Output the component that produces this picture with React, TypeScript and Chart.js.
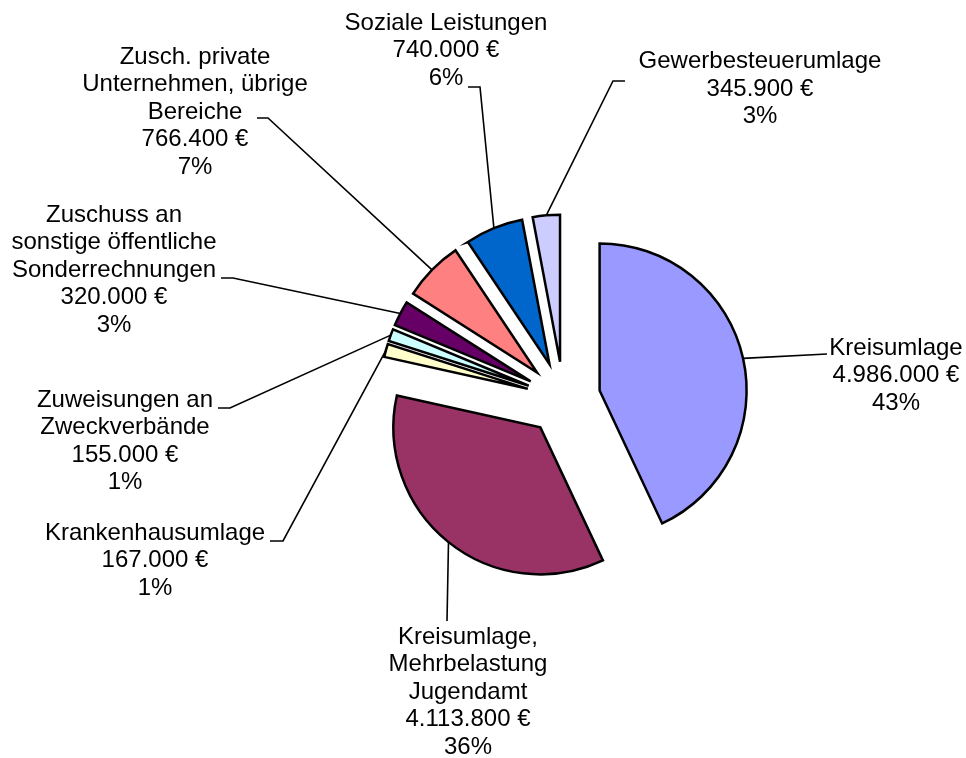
import React, { useEffect, useRef } from "react";
import { Chart, registerables } from "chart.js";

Chart.register(...registerables);

// ---- data ----
const categories = [
  "Kreisumlage",
  "Kreisumlage,\nMehrbelastung\nJugendamt",
  "Krankenhausumlage",
  "Zuweisungen an\nZweckverbände",
  "Zuschuss an\nsonstige öffentliche\nSonderrechnungen",
  "Zusch. private\nUnternehmen, übrige\nBereiche",
  "Soziale Leistungen",
  "Gewerbesteuerumlage",
];
const values = [4986000, 4113800, 167000, 155000, 320000, 766400, 740000, 345900];
const percentLabels = ["43%", "36%", "1%", "1%", "3%", "7%", "6%", "3%"];
const colors = ["#9999FF", "#993366", "#FFFFCC", "#CCFFFF", "#660066", "#FF8080", "#0066CC", "#CCCCFF"];

// ---- label layout (text block centre, first-line y, leader anchor, elbow length) ----
const labelLayout = [
  { cx: 896, cy: 348, ax: 827, ay: 354, elbow: 0 },
  { cx: 468, cy: 637, ax: 447, ay: 621, elbow: 0 },
  { cx: 155, cy: 533, ax: 270, ay: 541, elbow: 13 },
  { cx: 125, cy: 400, ax: 218, ay: 408, elbow: 12 },
  { cx: 114, cy: 215, ax: 221, ay: 278, elbow: 12 },
  { cx: 195, cy: 57, ax: 257, ay: 118, elbow: 11 },
  { cx: 446, cy: 23, ax: 468, ay: 87, elbow: 12 },
  { cx: 760, cy: 61.5, ax: 625, ay: 81, elbow: -12 },
];

const EXPLODE = 37;
const RADIUS = 147;
const FONT = "24px 'Liberation Sans', Arial, Helvetica, sans-serif";
const LINE_H = 27.5;

function formatEuro(v: number): string {
  return String(v).replace(/\B(?=(\d{3})+(?!\d))/g, ".") + " €";
}

const explodePlugin = {
  id: "explodeSlices",
  beforeDatasetDraw(chart: any, args: any) {
    const ctx = chart.ctx;
    args.meta.data.forEach((arc: any) => {
      const mid = (arc.startAngle + arc.endAngle) / 2;
      ctx.save();
      ctx.translate(Math.cos(mid) * EXPLODE, Math.sin(mid) * EXPLODE);
      arc.draw(ctx, chart.chartArea);
      ctx.restore();
    });
    return false;
  },
};

const labelPlugin = {
  id: "pieLabels",
  afterDraw(chart: any) {
    const ctx = chart.ctx;
    const meta = chart.getDatasetMeta(0);
    meta.data.forEach((arc: any, i: number) => {
      const L = labelLayout[i];
      const mid = (arc.startAngle + arc.endAngle) / 2;
      const r = arc.outerRadius + EXPLODE;
      const px = arc.x + Math.cos(mid) * r;
      const py = arc.y + Math.sin(mid) * r;
      ctx.save();
      ctx.strokeStyle = "#000";
      ctx.lineWidth = 1.6;
      ctx.beginPath();
      ctx.moveTo(px, py);
      ctx.lineTo(L.ax + L.elbow, L.ay);
      ctx.lineTo(L.ax, L.ay);
      ctx.stroke();
      const lines = [...categories[i].split("\n"), formatEuro(values[i]), percentLabels[i]];
      ctx.fillStyle = "#000";
      ctx.font = FONT;
      ctx.textAlign = "center";
      ctx.textBaseline = "middle";
      lines.forEach((t, k) => ctx.fillText(t, L.cx, L.cy + k * LINE_H));
      ctx.restore();
    });
  },
};

export default function App() {
  const ref = useRef<HTMLCanvasElement | null>(null);
  useEffect(() => {
    if (!ref.current) return;
    const chart = new Chart(ref.current, {
      type: "pie",
      data: {
        labels: categories.map((c) => c.replace(/\n/g, " ")),
        datasets: [
          {
            data: values,
            backgroundColor: colors,
            borderColor: "#000000",
            borderWidth: 2.5,
            borderJoinStyle: "miter",
            radius: RADIUS,
          } as any,
        ],
      },
      options: {
        responsive: false,
        animation: false,
        events: [],
        layout: { padding: { left: 161, top: 39, right: 0, bottom: 0 } },
        plugins: {
          legend: { display: false },
          tooltip: { enabled: false },
          title: { display: false },
        },
      },
      plugins: [explodePlugin, labelPlugin],
    });
    return () => chart.destroy();
  }, []);
  return (
    <div style={{ position: "fixed", left: 0, top: 0, width: 966, height: 758, background: "#fff" }}>
      <canvas ref={ref} width={966} height={758} style={{ display: "block" }} />
    </div>
  );
}
